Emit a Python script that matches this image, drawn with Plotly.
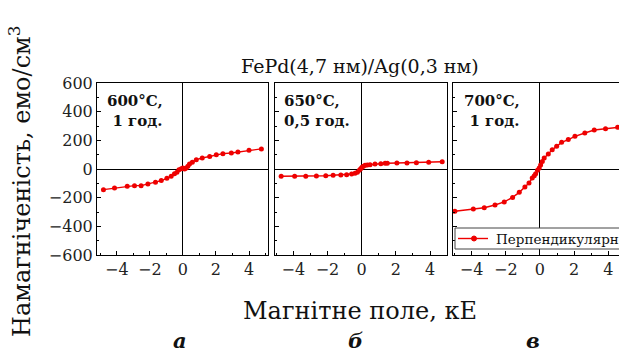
import plotly.graph_objects as go

W, H = 619, 353

# ---- data ----
field_a = [-4.81, -4.14, -3.37, -2.93, -2.53, -2.12, -1.66, -1.31, -0.97, -0.71, -0.51, -0.36, -0.24, -0.10,
           0.0, 0.10, 0.20, 0.30, 0.40, 0.57, 0.81, 1.17, 1.62, 2.02, 2.42, 2.93, 3.33, 4.0, 4.75]
mag_a = [-144, -133, -121, -116, -116, -105, -93, -81, -65, -51, -33, -23, -5, 2,
         7, 0, 7, 19, 35, 47, 65, 77, 88, 100, 107, 112, 119, 130, 140]

field_b = [-4.71, -3.92, -3.27, -2.65, -2.10, -1.67, -1.22, -0.88, -0.59, -0.39, -0.25, -0.14, -0.06,
           0.02, 0.10, 0.20, 0.33, 0.49, 0.78, 1.12, 1.37, 1.50, 2.06, 2.65, 3.20, 3.92, 4.71]
mag_b = [-51, -51, -51, -49, -47, -44, -42, -40, -35, -30, -23, -9, 2,
         12, 19, 26, 28, 30, 35, 37, 40, 40, 42, 42, 44, 47, 51]

field_c = [-4.98, -3.90, -3.26, -2.63, -2.09, -1.60, -1.21, -0.88, -0.64, -0.45, -0.33, -0.25, -0.14, -0.04,
           0.04, 0.14, 0.25, 0.49, 0.72, 0.98, 1.27, 1.66, 2.05, 2.63, 3.18, 3.84, 4.55, 4.75]
mag_c = [-295, -279, -270, -251, -230, -198, -163, -126, -98, -63, -47, -33, -9, 7,
         28, 53, 77, 105, 135, 158, 186, 205, 228, 251, 272, 281, 291, 293]

x_ticks = [-4, -2, 0, 2, 4]
y_ticks = [-600, -400, -200, 0, 200, 400, 600]
panel_notes = ["600°C,<br> 1 год.", "650°C,<br>0,5 год.", "700°C,<br> 1 год."]
panel_letters = ["а", "б", "в"]
series_name = "Перпендикулярно"
title_text = "FePd(4,7 нм)/Ag(0,3 нм)"
x_title = "Магнітне поле, кЕ"
y_title = "Намагніченість, емо/см<sup>3</sup>"

FONT = "DejaVu Serif"
RED = "#ee0000"

def px(x):
    return x / W

def py(y):
    return 1 - y / H

fig = go.Figure()
datasets = [(field_a, mag_a), (field_b, mag_b), (field_c, mag_c)]
for i, (fx, my) in enumerate(datasets):
    sfx = "" if i == 0 else str(i + 1)
    fig.add_trace(go.Scatter(
        x=fx, y=my, mode="lines+markers",
        xaxis="x" + sfx, yaxis="y" + sfx,
        line=dict(color=RED, width=1.4),
        marker=dict(color=RED, size=5),
        name=series_name, showlegend=False,
    ))

x_domains = [(97, 268), (275, 447), (453, 619)]
x_ranges = [(-5.2, 5.15), (-5.07, 4.99), (-5.09, 4.63)]
ydom = [py(255), py(83)]

for i in range(3):
    sfx = "" if i == 0 else str(i + 1)
    xa = dict(
        domain=[px(x_domains[i][0]), px(x_domains[i][1])],
        range=list(x_ranges[i]),
        anchor="y" + sfx,
        tickmode="array", tickvals=x_ticks,
        ticktext=["\u22124" if v == -4 else "\u22122" if v == -2 else str(v) for v in x_ticks],
        ticks="inside", ticklen=4, tickcolor="black",
        minor=dict(ticks="inside", ticklen=2, dtick=1, tickcolor="black", showgrid=False),
        showline=True, linecolor="black", linewidth=1, mirror=True,
        showgrid=False, zeroline=True, zerolinecolor="black", zerolinewidth=1,
        tickfont=dict(family=FONT, size=16, color="#222"),
    )
    ya = dict(
        domain=ydom, range=[-600, 600],
        anchor="x" + sfx,
        tickmode="array", tickvals=y_ticks,
        ticktext=[("\u2212" + str(-v)) if v < 0 else str(v) for v in y_ticks],
        showticklabels=(i == 0),
        ticks="inside", ticklen=4, tickcolor="black",
        minor=dict(ticks="inside", ticklen=2, dtick=100, tickcolor="black", showgrid=False),
        showline=True, linecolor="black", linewidth=1, mirror=(i < 2),
        showgrid=False, zeroline=True, zerolinecolor="black", zerolinewidth=1,
        tickfont=dict(family=FONT, size=16, color="#222"),
    )
    fig.update_layout(**{"xaxis" + sfx: xa, "yaxis" + sfx: ya})

annotations = []
note_x = [105, 282, 462]
note_align = ["center", "left", "center"]
for i in range(3):
    annotations.append(dict(
        text="<b>" + panel_notes[i] + "</b>", x=px(note_x[i]), y=py(90),
        xref="paper", yref="paper", xanchor="left", yanchor="top",
        align=note_align[i], showarrow=False,
        font=dict(family=FONT, size=15, color="#111"),
    ))
letter_x = [180, 355, 533]
for i in range(3):
    annotations.append(dict(
        text="<b><i>" + panel_letters[i] + "</i></b>", x=px(letter_x[i]), y=py(340),
        xref="paper", yref="paper", xanchor="center", yanchor="middle",
        showarrow=False, font=dict(family=FONT, size=21, color="#111"),
    ))
annotations.append(dict(
    text=title_text, x=px(360), y=py(66), xref="paper", yref="paper",
    xanchor="center", yanchor="middle", showarrow=False,
    font=dict(family=FONT, size=19, color="#111"),
))
annotations.append(dict(
    text=x_title, x=px(360), y=py(311), xref="paper", yref="paper",
    xanchor="center", yanchor="middle", showarrow=False,
    font=dict(family=FONT, size=24, color="#111"),
))
annotations.append(dict(
    text=y_title, x=px(20), y=py(182), xref="paper", yref="paper",
    xanchor="center", yanchor="middle", showarrow=False, textangle=-90,
    font=dict(family=FONT, size=24, color="#111"),
))
# legend (drawn by hand so its box can run off the right edge, as in the reference)
annotations.append(dict(
    text=series_name, x=px(494), y=py(238.5), xref="paper", yref="paper",
    xanchor="left", yanchor="middle", showarrow=False,
    font=dict(family=FONT, size=13.5, color="#111"),
))
shapes = [
    dict(type="rect", xref="paper", yref="paper",
         x0=px(455), x1=px(640), y0=py(249), y1=py(228),
         line=dict(color="#444", width=1), fillcolor="white", layer="above"),
    dict(type="line", xref="paper", yref="paper",
         x0=px(458), x1=px(488), y0=py(238.5), y1=py(238.5),
         line=dict(color=RED, width=1.4), layer="above"),
    dict(type="circle", xref="paper", yref="paper",
         x0=px(471.5), x1=px(476.5), y0=py(241), y1=py(236),
         line=dict(color=RED, width=1), fillcolor=RED, layer="above"),
]

fig.update_layout(
    width=W, height=H,
    margin=dict(l=0, r=0, t=0, b=0, autoexpand=False),
    paper_bgcolor="white", plot_bgcolor="white",
    annotations=annotations, shapes=shapes,
    showlegend=False,
)

fig.write_html("out.html")
